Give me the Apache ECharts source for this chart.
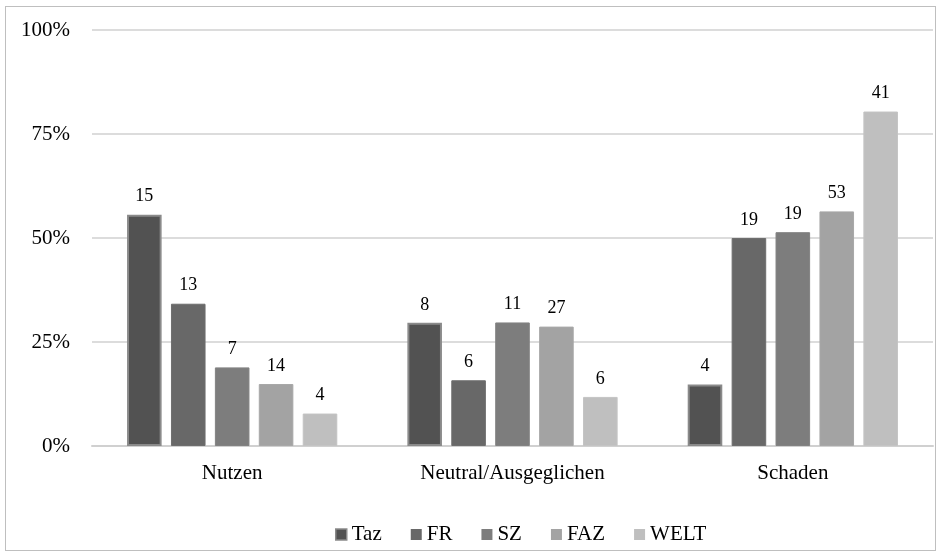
<!DOCTYPE html>
<html><head><meta charset="utf-8">
<script src="https://cdn.jsdelivr.net/npm/echarts@6/dist/echarts.min.js"></script>
<style>html,body{margin:0;padding:0;background:#fff}#c{width:938px;height:556px}
#frame{position:absolute;left:5px;top:6px;width:931px;height:545px;border:1.5px solid #bfbfbf;box-sizing:border-box;pointer-events:none}</style>
</head><body><div id="c"></div><div id="frame"></div>
<script>
const categories = ['Nutzen', 'Neutral/Ausgeglichen', 'Schaden'];
const seriesNames = ['Taz', 'FR', 'SZ', 'FAZ', 'WELT'];
// bar heights (percent of each newspaper's articles)
const pctTaz  = [55.6, 29.6, 14.8];
const pctFR   = [34.2, 15.8, 50.0];
const pctSZ   = [18.9, 29.7, 51.4];
const pctFAZ  = [14.9, 28.7, 56.4];
const pctWELT = [7.8, 11.8, 80.4];
// counts shown as labels
const cntTaz  = [15, 8, 4];
const cntFR   = [13, 6, 19];
const cntSZ   = [7, 11, 19];
const cntFAZ  = [14, 27, 53];
const cntWELT = [4, 6, 41];
const yTicks = [0, 25, 50, 75, 100];

const pcts = [pctTaz, pctFR, pctSZ, pctFAZ, pctWELT];
const cnts = [cntTaz, cntFR, cntSZ, cntFAZ, cntWELT];
const colors = ['#525252', '#686868', '#7d7d7d', '#a3a3a3', '#bfbfbf'];
const borders = ['#8a8a8a', '#6e6e6e', '#828282', '#a8a8a8', '#c4c4c4'];
const font = '"Liberation Serif", "Times New Roman", serif';

const chart = echarts.init(document.getElementById('c'));
chart.setOption({
  animation: false,
  textStyle: { fontFamily: font },
  grid: { left: 92, right: 5, top: 30, bottom: 110 },
  legend: {
    top: 519, left: 330, itemWidth: 11, itemHeight: 11, itemGap: 29,
    textStyle: { fontFamily: font, fontSize: 21, color: '#000' },
    data: seriesNames.map((n, i) => ({ name: n, icon: 'rect',
      itemStyle: { borderColor: borders[i], borderWidth: i === 0 ? 1.5 : 0 } }))
  },
  xAxis: {
    type: 'category', data: categories,
    axisLine: { lineStyle: { color: '#d0d0d0', width: 2 } },
    axisTick: { show: false },
    axisLabel: { fontFamily: font, fontSize: 21, color: '#000', margin: 17 }
  },
  yAxis: {
    type: 'value', min: 0, max: 100, interval: 25,
    axisLine: { show: false }, axisTick: { show: false },
    splitLine: { lineStyle: { color: '#d0d0d0', width: 1.5 } },
    axisLabel: { fontFamily: font, fontSize: 21, color: '#000', margin: 22,
      formatter: v => yTicks.includes(v) ? v + '%' : '' }
  },
  series: seriesNames.map((n, i) => ({
    name: n, type: 'bar', data: pcts[i],
    barCategoryGap: '25%', barGap: '27%',
    itemStyle: { color: colors[i], borderColor: borders[i], borderWidth: i === 0 ? 2 : 1 },
    label: { show: true, position: 'top', distance: 9, fontFamily: font, fontSize: 18, color: '#000',
      formatter: p => String(cnts[i][p.dataIndex]) }
  }))
});
</script></body></html>
